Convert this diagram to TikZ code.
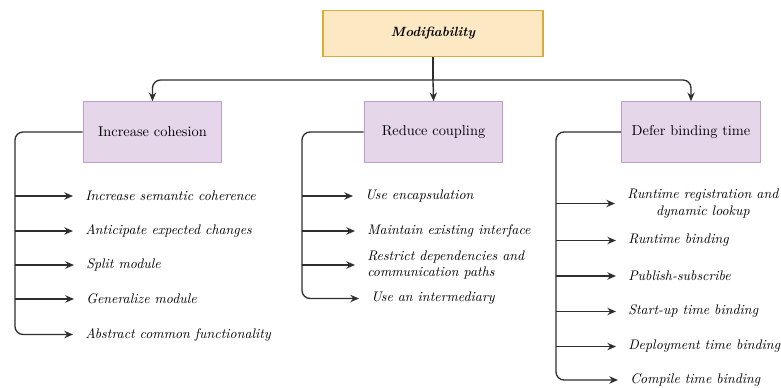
\documentclass[tikz,border=0pt]{standalone}
\usetikzlibrary{arrows.meta}
\begin{document}
\begin{tikzpicture}[x=0.75pt,y=-0.75pt,
  rootbox/.style={draw=rootborder, fill=rootfill, line width=0.9pt,
    minimum width=165pt, minimum height=35pt, inner sep=0pt,
    font=\bfseries\itshape},
  tacticbox/.style={draw=tacborder, fill=tacfill, line width=0.8pt,
    minimum width=104pt, minimum height=45.5pt, inner sep=0pt,
    font=\fontsize{10.8}{13}\selectfont},
  item/.style={anchor=west, inner xsep=0pt, inner ysep=1pt,
    font=\fontsize{10.4}{12.6}\selectfont\itshape},
  conn/.style={draw=linecol, line width=1pt, rounded corners=6pt},
  arr/.style={conn, -{Stealth[length=6.5pt,width=5.5pt]}},
  tip/.style={arr, shorten >=9pt}
]
\definecolor{rootfill}{HTML}{FCE8C2}
\definecolor{rootborder}{HTML}{DDAA35}
\definecolor{tacfill}{HTML}{E6D6EA}
\definecolor{tacborder}{HTML}{B9A0C6}
\definecolor{linecol}{HTML}{2E2E2E}

\useasboundingbox (0,0) rectangle (781,388);

% root and tactic groups
\node[rootbox] (mod) at (433,33.5) {Modifiability};
\node[tacticbox] (ic) at (152.5,132) {Increase cohesion};
\node[tacticbox] (rc) at (433.5,132) {Reduce coupling};
\node[tacticbox] (dbt) at (691,132) {Defer binding time};

\coordinate (hub) at (433,80);
\draw[conn] (mod.south) -- (hub);
\draw[arr] (hub) -| (ic.north);
\draw[arr] (hub) -- (rc.north);
\draw[arr] (hub) -| (dbt.north);

% spines
\coordinate (lspine) at (15,0);
\coordinate (mspine) at (302,0);
\coordinate (rspine) at (556,0);

% increase cohesion
\node[item] (a1) at (85,196) {Increase semantic coherence};
\node[item] (a2) at (85,231) {Anticipate expected changes};
\node[item] (a3) at (86,265) {Split module};
\node[item] (a4) at (86,299) {Generalize module};
\node[item] (a5) at (85,334.5) {Abstract common functionality};

\draw[tip] (ic.west) -| (lspine |- a5.west) -- (a5.west);
\foreach \n in {a1,a2,a3,a4}
  \draw[tip] (lspine |- \n.west) -- (\n.west);

% reduce coupling
\node[item] (b1) at (365,196) {Use encapsulation};
\node[item] (b2) at (367,231) {Maintain existing interface};
\node[item, align=left] (b3) at (367,265) {Restrict dependencies and\\communication paths};
\node[item] (b4) at (371,298.5) {Use an intermediary};

\draw[tip] (rc.west) -| (mspine |- b4.west) -- (b4.west);
\foreach \n in {b1,b2,b3}
  \draw[tip] (mspine |- \n.west) -- (\n.west);

% defer binding time
\node[item, align=center] (c1) at (627,203.5) {Runtime registration and\\dynamic lookup};
\node[item] (c2) at (628,240.5) {Runtime binding};
\node[item] (c3) at (628,276) {Publish-subscribe};
\node[item] (c4) at (628,311.5) {Start-up time binding};
\node[item] (c5) at (628,346.5) {Deployment time binding};
\node[item] (c6) at (630,380) {Compile time binding};

\draw[tip] (dbt.west) -| (rspine |- c6.west) -- (c6.west);
\foreach \n in {c1,c2,c3,c4,c5}
  \draw[tip] (rspine |- \n.west) -- (\n.west);
\end{tikzpicture}
\end{document}
